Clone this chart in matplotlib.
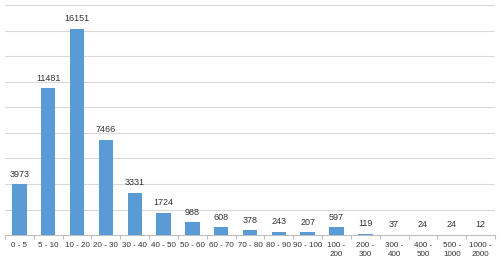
import matplotlib.pyplot as plt
import numpy as np

categories = ["0 - 5", "5 - 10", "10 - 20", "20 - 30", "30 - 40", "40 - 50", "50 - 60",
              "60 - 70", "70 - 80", "80 - 90", "90 - 100", "100 -\n200", "200 -\n300",
              "300 -\n400", "400 -\n500", "500 -\n1000", "1000 -\n2000"]
counts = [3973, 11481, 16151, 7466, 3331, 1724, 988, 608, 378, 243, 207, 597, 119, 37, 24, 24, 12]

plt.rcParams['font.family'] = ['Liberation Sans', 'DejaVu Sans']

fig = plt.figure(figsize=(5, 2.63), dpi=100)
ax = fig.add_axes([0.01, 0.106, 0.98, 0.875])

x = np.arange(len(categories))
bars = ax.bar(x, counts, width=0.5, color="#5B9BD5", zorder=3)
for xi, v in zip(x, counts):
    ax.text(xi, v + 450, str(v), ha="center", va="bottom", fontsize=6.5, color="#333333")

ax.set_xlim(-0.5, len(categories) - 0.5)
ax.set_ylim(0, 18000)
ax.set_yticks(np.arange(2000, 18001, 2000))
ax.yaxis.grid(True, color="#D9D9D9", linewidth=0.8, zorder=0)
ax.tick_params(axis="y", left=False, labelleft=False)

ax.set_xticks(x)
ax.set_xticklabels(categories, fontsize=5.8, color="#333333", linespacing=1.35, va="top")
ax.tick_params(axis="x", length=0, pad=5)
ax.set_xticks(np.arange(-0.5, len(categories), 1), minor=True)
ax.tick_params(axis="x", which="minor", length=3, color="#BFBFBF", width=0.8)

for s in ["left", "right", "top"]:
    ax.spines[s].set_visible(False)
ax.spines["bottom"].set_color("#BFBFBF")
ax.spines["bottom"].set_linewidth(0.8)

fig.savefig("out.png", dpi=100, facecolor="white")
